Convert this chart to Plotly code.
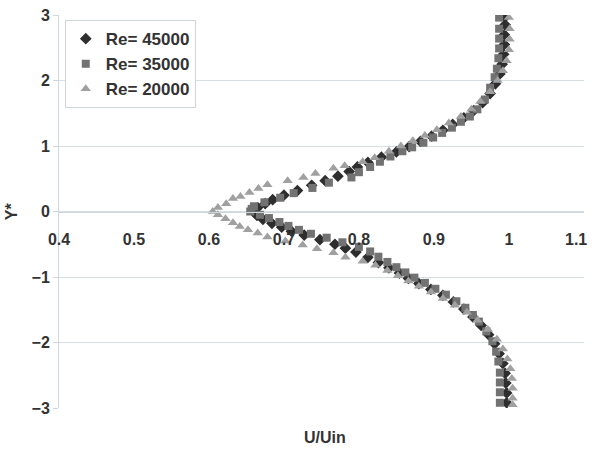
import plotly.graph_objects as go

# Normalised velocity profiles U/Uin across the wake, Y* position
y_re45000 = [-2.92, -2.77, -2.62, -2.47, -2.32, -2.17, -2.02, -1.88, -1.74, -1.61,
             -1.49, -1.38, -1.28, -1.19, -1.10, -1.02, -0.94, -0.86, -0.78, -0.70,
             -0.62, -0.56, -0.50, -0.43, -0.36, -0.30, -0.24, -0.18, -0.12, -0.06,
             0.00, 0.06, 0.12, 0.18, 0.25, 0.32, 0.40, 0.47, 0.54, 0.61,
             0.68, 0.75, 0.83, 0.91, 0.99, 1.07, 1.15, 1.24, 1.33, 1.43,
             1.54, 1.66, 1.80, 1.95, 2.10, 2.25, 2.40, 2.55, 2.70, 2.85, 2.97]
u_re45000 = [0.997, 0.997, 0.996, 0.995, 0.992, 0.987, 0.981, 0.973, 0.963, 0.952,
             0.940, 0.926, 0.912, 0.896, 0.880, 0.866, 0.854, 0.840, 0.826, 0.812,
             0.796, 0.782, 0.768, 0.748, 0.727, 0.710, 0.697, 0.684, 0.672, 0.664,
             0.660, 0.665, 0.675, 0.685, 0.700, 0.718, 0.737, 0.755, 0.772, 0.787,
             0.798, 0.812, 0.830, 0.850, 0.867, 0.882, 0.897, 0.912, 0.925, 0.940,
             0.953, 0.965, 0.975, 0.982, 0.988, 0.991, 0.993, 0.994, 0.994, 0.995, 0.995]

y_re35000 = [-2.92, -2.76, -2.61, -2.46, -2.29, -2.14, -1.98, -1.83, -1.68, -1.58,
             -1.47, -1.37, -1.27, -1.18, -1.09, -1.01, -0.93, -0.85, -0.77, -0.69,
             -0.61, -0.54, -0.47, -0.40, -0.34, -0.28, -0.22, -0.16, -0.10, -0.05,
             0.00, 0.04, 0.08, 0.14, 0.21, 0.28, 0.36, 0.44, 0.52, 0.60,
             0.68, 0.76, 0.84, 0.92, 0.98, 1.05, 1.13, 1.20, 1.28, 1.37,
             1.45, 1.56, 1.71, 1.89, 2.05, 2.18, 2.34, 2.49, 2.64, 2.79, 2.96]
u_re35000 = [0.988, 0.988, 0.988, 0.988, 0.986, 0.983, 0.978, 0.970, 0.960, 0.952,
             0.942, 0.930, 0.916, 0.902, 0.888, 0.874, 0.862, 0.850, 0.838, 0.826,
             0.815, 0.800, 0.778, 0.757, 0.736, 0.720, 0.706, 0.694, 0.680, 0.668,
             0.655, 0.657, 0.660, 0.674, 0.695, 0.713, 0.738, 0.760, 0.790, 0.800,
             0.815, 0.828, 0.842, 0.858, 0.871, 0.886, 0.899, 0.911, 0.924, 0.936,
             0.948, 0.958, 0.968, 0.975, 0.981, 0.984, 0.986, 0.987, 0.987, 0.987, 0.987]

y_re20000 = [-2.95, -2.85, -2.70, -2.55, -2.40, -2.25, -2.10, -1.95, -1.80, -1.66,
             -1.54, -1.43, -1.33, -1.23, -1.14, -1.06, -0.98, -0.90, -0.82, -0.76,
             -0.70, -0.63, -0.57, -0.51, -0.45, -0.39, -0.33, -0.28, -0.23, -0.17,
             -0.11, -0.05, 0.00, 0.06, 0.12, 0.20, 0.23, 0.29, 0.35, 0.41,
             0.47, 0.52, 0.58, 0.66, 0.70, 0.76, 0.82, 0.92, 1.00, 1.08,
             1.16, 1.25, 1.35, 1.45, 1.56, 1.68, 1.83, 2.00, 2.15, 2.30,
             2.47, 2.63, 2.79, 2.96]
u_re20000 = [1.005, 1.005, 1.005, 1.004, 1.002, 0.998, 0.992, 0.984, 0.972, 0.958,
             0.944, 0.928, 0.912, 0.896, 0.880, 0.866, 0.852, 0.838, 0.822, 0.805,
             0.782, 0.766, 0.744, 0.725, 0.702, 0.678, 0.665, 0.652, 0.641, 0.632,
             0.622, 0.612, 0.605, 0.612, 0.623, 0.632, 0.642, 0.654, 0.666, 0.678,
             0.705, 0.726, 0.742, 0.766, 0.781, 0.805, 0.821, 0.840, 0.856, 0.872,
             0.888, 0.904, 0.920, 0.936, 0.950, 0.962, 0.975, 0.985, 0.992, 0.997,
             1.000, 1.001, 1.001, 1.000]

x_ticks = [0.4, 0.5, 0.6, 0.7, 0.8, 0.9, 1.0, 1.1]
x_tick_text = ["0.4", "0.5", "0.6", "0.7", "0.8", "0.9", "1", "1.1"]
y_ticks = [-3, -2, -1, 0, 1, 2, 3]

FONT = "Liberation Sans, Arial, sans-serif"
TEXT = "#333333"
TICK_FONT = dict(family=FONT, size=16, color=TEXT, weight="bold")

fig = go.Figure()
fig.add_trace(go.Scatter(x=u_re45000, y=y_re45000, mode="markers", name="Re= 45000",
                         marker=dict(symbol="diamond", size=9, color="#2e2e2e")))
fig.add_trace(go.Scatter(x=u_re35000, y=y_re35000, mode="markers", name="Re= 35000",
                         marker=dict(symbol="square", size=8, color="#727272")))
fig.add_trace(go.Scatter(x=u_re20000, y=y_re20000, mode="markers", name="Re= 20000",
                         marker=dict(symbol="triangle-up", size=9, color="#a0a0a0")))

# the last tick label is drawn separately, nudged left so it stays on the page
axis_labels = x_tick_text[:-1] + [""]
edge_label = dict(text=x_tick_text[-1], xref="x", yref="y", x=x_ticks[-1], y=0,
                  xanchor="center", yanchor="middle", xshift=-8, yshift=-28,
                  showarrow=False, font=TICK_FONT)

fig.update_layout(
    width=593, height=449,
    margin=dict(l=59, r=9, t=15, b=41),
    paper_bgcolor="white", plot_bgcolor="white",
    font=dict(family=FONT, size=16, color=TEXT, weight="bold"),
    showlegend=True,
    legend=dict(x=0.011, y=0.987, xanchor="left", yanchor="top",
                bgcolor="white", bordercolor="#cfd6da", borderwidth=1,
                font=dict(family=FONT, size=17, color=TEXT, weight="bold"),
                itemwidth=30, tracegroupgap=0),
    xaxis=dict(range=[0.4, 1.1002], tickvals=x_ticks, ticktext=axis_labels,
               anchor="free", position=0.5, showgrid=False, zeroline=False,
               showline=True, linecolor="#cdd8de", linewidth=1,
               ticks="outside", ticklen=13, tickcolor="rgba(0,0,0,0)",
               automargin=False, tickfont=TICK_FONT),
    yaxis=dict(range=[-3, 3], tickvals=y_ticks, showgrid=True,
               gridcolor="#d5dee3", gridwidth=1, zeroline=False,
               showline=True, linecolor="#cdd8de", linewidth=1,
               ticks="outside", ticklen=5, tickcolor="#cdd8de", automargin=False,
               tickfont=TICK_FONT),
    annotations=[
        edge_label,
        dict(text="U/Uin", xref="paper", yref="paper", x=0.507, y=-0.076,
             xanchor="center", yanchor="middle", showarrow=False,
             font=dict(family=FONT, size=16, color=TEXT, weight="bold")),
        dict(text="Y*", xref="paper", yref="paper", x=-0.09, y=0.5,
             xanchor="center", yanchor="middle", showarrow=False, textangle=-90,
             font=dict(family=FONT, size=16, color=TEXT, weight="bold")),
    ],
)

fig.write_html("out.html")
